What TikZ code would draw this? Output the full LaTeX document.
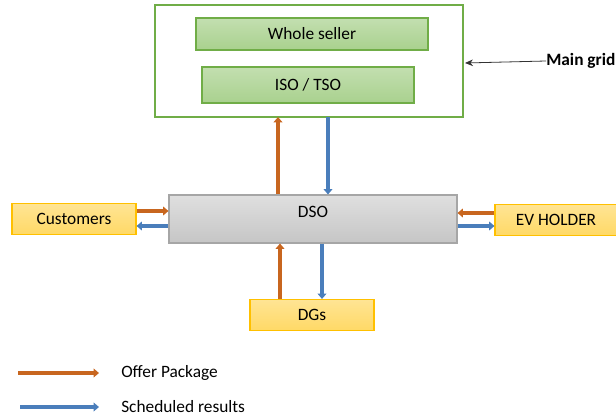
\documentclass[tikz,border=0pt]{standalone}
\usepackage{fontspec}
\setmainfont{Carlito}
\usetikzlibrary{arrows.meta}
\definecolor{offer}{HTML}{C8661F}
\definecolor{sched}{HTML}{4A7EBB}
\definecolor{gborder}{HTML}{70AD47}
\definecolor{gfill}{HTML}{A9D18E}
\definecolor{yborder}{HTML}{FFC000}
\definecolor{yfill}{HTML}{FFD966}
\definecolor{grayb}{HTML}{A6A6A6}
\tikzset{
  txt/.style={font=\fontsize{13}{15}\selectfont},
  greenbox/.style={draw=gborder, line width=0.8pt, top color=gfill!70!white, bottom color=gfill, minimum height=#1*0.75pt, inner sep=0pt, txt},
  yellowbox/.style={draw=yborder, line width=0.8pt, top color=yfill!70!white, bottom color=yfill, inner sep=0pt, txt},
  offerarrow/.style={draw=offer, line width=2.4pt, -{Triangle[length=4pt,width=6.5pt]}},
  schedarrow/.style={draw=sched, line width=2.4pt, -{Triangle[length=4pt,width=6.5pt]}},
  lbl/.style={anchor=west, inner sep=0pt, txt}
}
\begin{document}
\begin{tikzpicture}[x=0.75pt, y=-0.75pt]
\useasboundingbox (0,0) rectangle (616,417);
% main grid box
\draw[gborder, line width=1.5pt, fill=white] (155,5) rectangle (463,117);
\node[greenbox=32, minimum width=232*0.75pt] (ws) at (312,34) {Whole seller};
\node[greenbox=36, minimum width=212*0.75pt] (iso) at (308,85) {ISO / TSO};
\coordinate (mgup) at (278,117);
\coordinate (mgdn) at (328,117);
\coordinate (mgr) at (465,63);
% DSO
\node[draw=grayb, line width=0.8pt, top color=gray!25, bottom color=gray!45, minimum width=288*0.75pt, minimum height=48*0.75pt, inner sep=0pt] (dso) at (313,219) {};
\node[inner sep=0pt, txt] (dsot) at (313,212) {DSO};
% side boxes
\node[yellowbox, minimum width=124*0.75pt, minimum height=31*0.75pt] (cust) at (74,219) {Customers};
\node[yellowbox, minimum width=122*0.75pt, minimum height=31*0.75pt] (ev) at (556,220) {EV HOLDER};
\node[yellowbox, minimum width=124*0.75pt, minimum height=31*0.75pt] (dg) at (312,315) {DGs};
% arrows DSO <-> main grid
\draw[offerarrow] (dso.north -| mgup) -- (mgup);
\draw[schedarrow] (mgdn) -- (dso.north -| mgdn);
% customers
\draw[offerarrow] ([yshift=8*0.75pt]cust.east) -- ([yshift=8*0.75pt]cust.east -| dso.west);
\draw[schedarrow] ([yshift=-7*0.75pt]cust.east -| dso.west) -- ([yshift=-7*0.75pt]cust.east);
% EV
\draw[offerarrow] ([yshift=7*0.75pt]ev.west) -- ([yshift=7*0.75pt]ev.west -| dso.east);
\draw[schedarrow] ([yshift=-6*0.75pt]ev.west -| dso.east) -- ([yshift=-6*0.75pt]ev.west);
% DGs
\coordinate (dgup) at (280,299);
\coordinate (dgdn) at (322,299);
\draw[offerarrow] (dg.north -| dgup) -- (dso.south -| dgup);
\draw[schedarrow] (dso.south -| dgdn) -- (dg.north -| dgdn);
% main grid label
\node[anchor=west, inner sep=0pt, txt, font=\fontsize{13}{15}\selectfont\bfseries] (mg) at (546,61) {Main grid};
\draw[black!80, line width=0.6pt, -{Stealth[length=6pt,width=5pt]}] (mg.west) -- (mgr);
% legend
\coordinate (l1a) at (18,373);
\coordinate (l1b) at (99,373);
\coordinate (l2a) at (20,407);
\coordinate (l2b) at (99,407);
\draw[offerarrow] (l1a) -- (l1b);
\draw[schedarrow] (l2a) -- (l2b);
\node[lbl] (t1) at (121,373) {Offer Package};
\node[lbl] (t2) at (121,407) {Scheduled results};
\end{tikzpicture}
\end{document}
